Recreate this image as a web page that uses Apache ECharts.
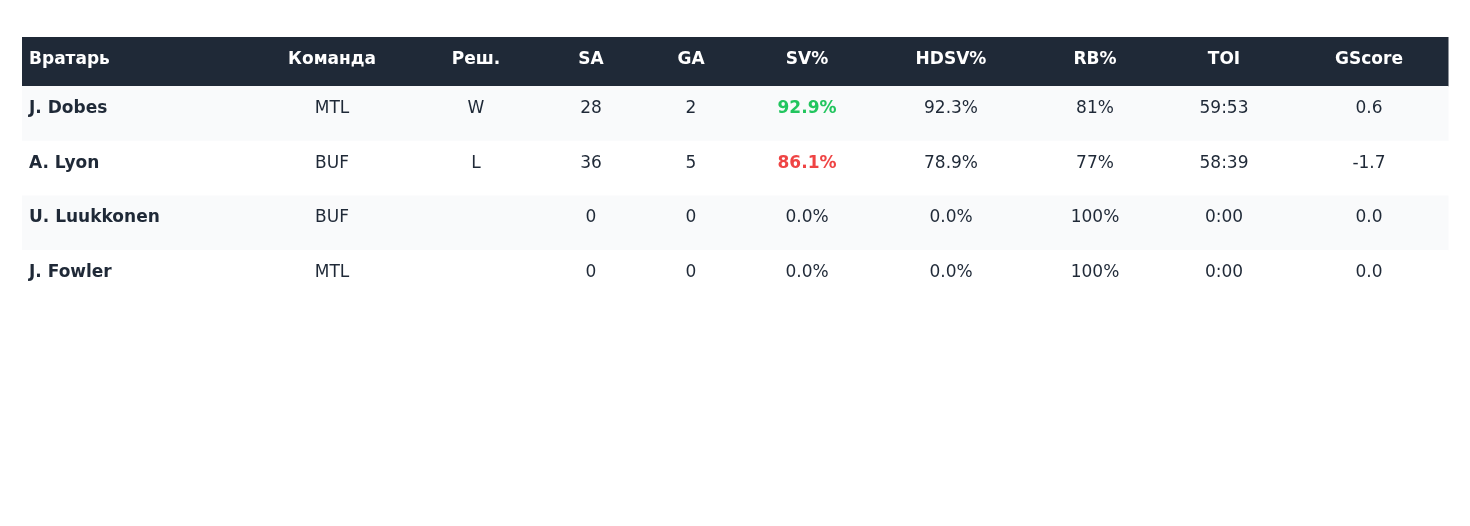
<!DOCTYPE html>
<html>
<head>
<meta charset="utf-8">
<script src="https://cdn.jsdelivr.net/npm/echarts@6/dist/echarts.min.js"></script>
<style>
  html, body { margin: 0; padding: 0; background: #fff; }
  #chart { width: 1470px; height: 526px; }
</style>
</head>
<body>
<div id="chart"></div>
<script>
// данные таблицы
const headers = ["Вратарь", "Команда", "Реш.", "SA", "GA", "SV%", "HDSV%", "RB%", "TOI", "GScore"];
const goalies = ["J. Dobes", "A. Lyon", "U. Luukkonen", "J. Fowler"];
const teams = ["MTL", "BUF", "BUF", "MTL"];
const decisions = ["W", "L", "", ""];
const shotsAgainst = [28, 36, 0, 0];
const goalsAgainst = [2, 5, 0, 0];
const savePct = [92.9, 86.1, 0.0, 0.0];
const hdSavePct = [92.3, 78.9, 0.0, 0.0];
const reboundPct = [81, 77, 100, 100];
const toi = ["59:53", "58:39", "0:00", "0:00"];
const gScore = [0.6, -1.7, 0.0, 0.0];

// ширины колонок (px)
const colWidths = [234, 152, 136, 94, 106, 126, 162, 126, 132, 158];
const headerH = 49;
const rowH = 54.7;
const tableW = colWidths.reduce((a, b) => a + b, 0);
const tableH = headerH + rowH * goalies.length;

const colStart = [];
colWidths.reduce((acc, w) => { colStart.push(acc); return acc + w; }, 0);

const fmtPct1 = (v) => v.toFixed(1) + "%";

const rows = goalies.map((g, i) => [
  g,
  teams[i],
  decisions[i],
  String(shotsAgainst[i]),
  String(goalsAgainst[i]),
  fmtPct1(savePct[i]),
  fmtPct1(hdSavePct[i]),
  reboundPct[i] + "%",
  toi[i],
  gScore[i].toFixed(1),
]);

// ячейки: [col, row] ; row = -1 -> шапка
const cells = [];
headers.forEach((h, c) => cells.push({ value: [c, -1], text: h }));
rows.forEach((r, ri) => r.forEach((t, c) => cells.push({ value: [c, ri], text: t })));

const svColor = (v) => (v >= 90 ? "#22c55e" : v > 0 && v < 88 ? "#ef4444" : null);

const chart = echarts.init(document.getElementById("chart"));

function renderItem(params, api) {
  const c = api.value(0);
  const r = api.value(1);
  const cell = cells[params.dataIndex];
  const isHeader = r < 0;
  const y0 = isHeader ? 0 : headerH + r * rowH;
  const h = isHeader ? headerH : rowH;
  const p0 = api.coord([colStart[c], y0]);
  const p1 = api.coord([colStart[c] + colWidths[c], y0 + h]);

  let bg = "#ffffff";
  if (isHeader) bg = "#1f2937";
  else if (r % 2 === 0) bg = "#f9fafb";

  let color = isHeader ? "#ffffff" : "#1f2937";
  let bold = isHeader || c === 0;
  if (!isHeader && c === 5) {
    const sc = svColor(savePct[r]);
    if (sc) { color = sc; bold = true; }
  }

  const left = c === 0;
  const tx = left ? p0[0] + 7 : (p0[0] + p1[0]) / 2;
  const ty = p0[1] + (isHeader ? 23 : 22.5);

  return {
    type: "group",
    children: [
      {
        type: "rect",
        shape: { x: p0[0], y: p0[1], width: p1[0] - p0[0] + 0.5, height: p1[1] - p0[1] + 0.5 },
        style: { fill: bg },
      },
      {
        type: "text",
        style: {
          x: tx,
          y: ty,
          text: cell.text,
          fill: color,
          align: left ? "left" : "center",
          verticalAlign: "middle",
          font: (bold ? "bold " : "") + "17px 'DejaVu Sans'",
        },
      },
    ],
  };
}

const option = {
  animation: false,
  grid: { left: 22, top: 37, width: tableW, height: tableH },
  xAxis: { type: "value", min: 0, max: tableW, show: false },
  yAxis: { type: "value", min: 0, max: tableH, inverse: true, show: false },
  series: [
    {
      type: "custom",
      renderItem: renderItem,
      data: cells.map((d) => d.value),
      encode: { x: 0, y: 1 },
      clip: false,
    },
  ],
};

chart.setOption(option);
</script>
</body>
</html>
